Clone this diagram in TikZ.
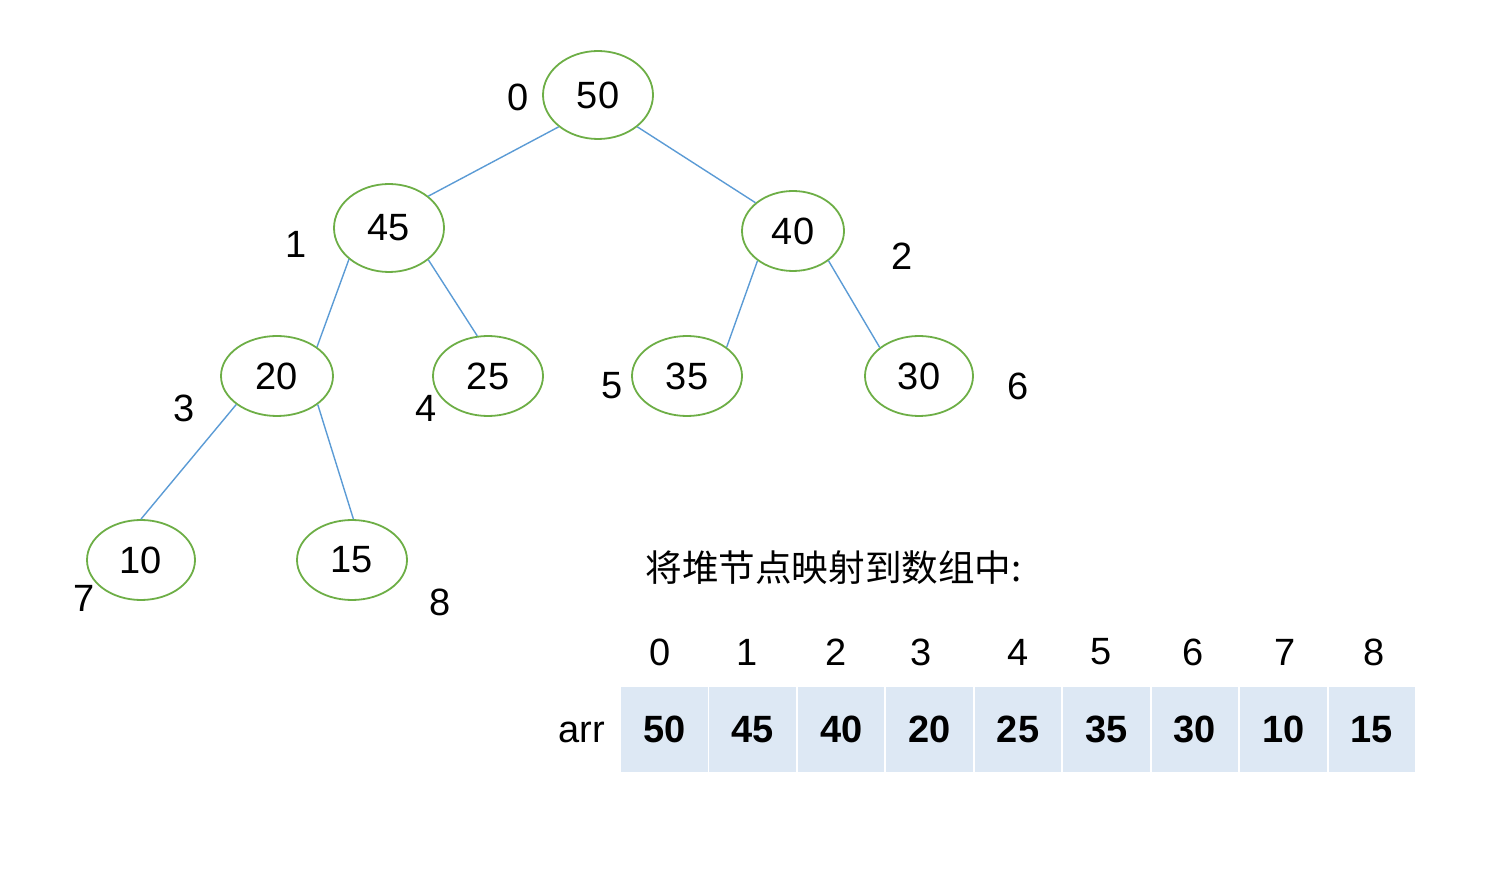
\documentclass[tikz,border=0pt]{standalone}
\usepackage{fontspec}
\setmainfont{Liberation Sans}
\newfontfamily\cjk{Noto Sans CJK SC}
\usetikzlibrary{shapes.geometric}
\definecolor{nodegreen}{HTML}{6DAE46}
\definecolor{edgeblue}{HTML}{5B9BD5}
\definecolor{cellfill}{HTML}{DDE8F4}
\tikzset{
  hnode/.style={ellipse, draw=nodegreen, line width=0.9pt, minimum width=55pt, minimum height=40pt, inner sep=0pt, font=\fontsize{19}{22}\selectfont},
  hedge/.style={draw=edgeblue, line width=0.7pt},
  idx/.style={font=\fontsize{19}{22}\selectfont, inner sep=0pt},
  cell/.style={rectangle, fill=cellfill, minimum width=43.3pt, minimum height=42.5pt, inner sep=0pt, font=\fontsize{19}{22}\selectfont\bfseries},
}
\begin{document}
\begin{tikzpicture}[x=0.5pt,y=-0.5pt]
\useasboundingbox (0,0) rectangle (1504,892);
% tree nodes
\node[hnode, minimum height=44pt] (n50) at (598,95) {50};
\node[hnode, minimum height=44pt] (n45) at (389,228) {45};
\node[hnode, minimum width=51pt] (n40) at (793,231) {40};
\node[hnode, minimum width=56pt] (n20) at (277,376) {20};
\node[hnode] (n25) at (488,376) {25};
\node[hnode] (n35) at (687,376) {35};
\node[hnode, minimum width=54pt] (n30) at (919,376) {30};
\node[hnode, minimum width=54pt] (n10) at (141,560) {10};
\node[hnode] (n15) at (352,560) {15};
% edges
\draw[hedge] (n50.219) -- (n45.39);
\draw[hedge] (n50.321) -- (n40.143);
\draw[hedge] (n45.218) -- (n20.36);
\draw[hedge] (n45.321) -- (n25.105);
\draw[hedge] (n40.220) -- (n35.36);
\draw[hedge] (n40.320) -- (n30.144);
\draw[hedge] (n20.215) -- (n10.north);
\draw[hedge] (n20.325) -- (n15.88);
% index labels
\node[idx] (i0) at (518,97) {0};
\node[idx] (i1) at (296,244) {1};
\node[idx] (i2) at (902,256) {2};
\node[idx] (i3) at (184,408) {3};
\node[idx] (i4) at (426,408) {4};
\node[idx] (i5) at (612,386) {5};
\node[idx] (i6) at (1018,386) {6};
\node[idx] (i7) at (84,598) {7};
\node[idx] (i8) at (440,602) {8};
% caption
\node[anchor=west, inner sep=0pt, font=\cjk\fontsize{18.3}{22}\selectfont] (cap) at (645,568) {将堆节点映射到数组中:};
% array
\node[idx] (arr) at (582,732) {arr};
\foreach \v/\t [count=\i from 0] in {50/660,45/747,40/836,20/921,25/1018,35/1101,30/1193,10/1285,15/1374} {
  \node[cell] (c\i) at ({664.3+88.44*\i},729.5) {\raisebox{-1.2pt}{\v}};
  \node[idx] (t\i) at (\t,652) {\i};
}
\end{tikzpicture}
\end{document}
